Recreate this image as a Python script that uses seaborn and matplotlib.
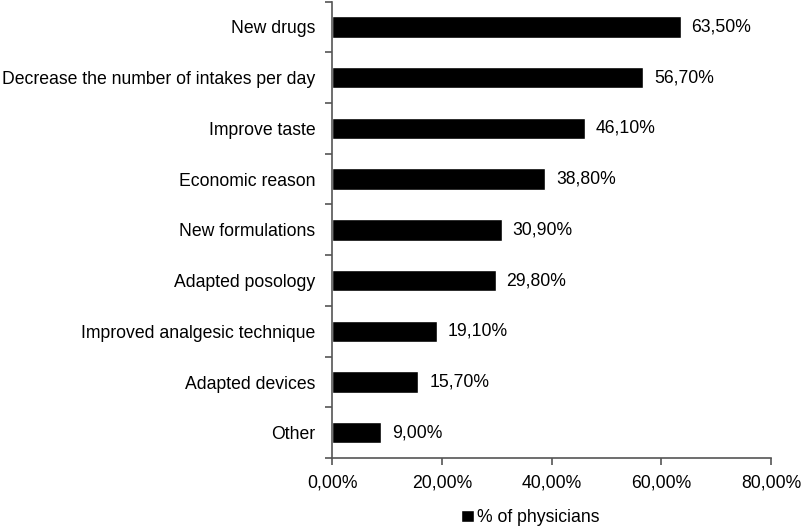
import numpy as np
import pandas as pd
import matplotlib
matplotlib.use("Agg")
import matplotlib.pyplot as plt
import seaborn as sns
from matplotlib.patches import Patch

categories = ["New drugs", "Decrease the number of intakes per day", "Improve taste",
              "Economic reason", "New formulations", "Adapted posology",
              "Improved analgesic technique", "Adapted devices", "Other"]
values = [63.5, 56.7, 46.1, 38.8, 30.9, 29.8, 19.1, 15.7, 9.0]
xticks = [0, 20, 40, 60, 80]
series_name = "% of physicians"

df = pd.DataFrame({"reason": categories, "pct": values})

sns.set_style("white")
plt.rcParams['font.family'] = ['Liberation Sans', 'DejaVu Sans']
plt.rcParams['text.color'] = 'black'
plt.rcParams['xtick.color'] = 'black'
plt.rcParams['ytick.color'] = 'black'

fs = 12.7

fig = plt.figure(figsize=(8.1, 5.29), dpi=100)
ax = fig.add_axes([0.41, 0.134, 0.542, 0.863])

sns.barplot(data=df, x="pct", y="reason", color="black", width=0.42,
            saturation=1, ax=ax, orient="h")

for i, v in enumerate(values):
    ax.text(v + 2.0, i, f"{v:.2f}".replace(".", ",") + "%", va="center",
            ha="left", fontsize=fs, color="black")

ax.set_xlim(0, 80)
ax.set_ylim(len(categories) - 0.5, -0.5)
ax.set_xticks(xticks)
ax.set_xticklabels([f"{t:.2f}".replace(".", ",") + "%" for t in xticks], fontsize=fs)
ax.set_yticks(range(len(categories)))
ax.set_yticklabels(categories, fontsize=fs)
ax.set_yticks(np.arange(-0.5, len(categories)), minor=True)
ax.tick_params(axis="y", which="major", left=False, length=0, pad=12)
ax.tick_params(axis="y", which="minor", left=True, length=5, color="#555555",
               width=1.2, direction="out")
ax.tick_params(axis="x", bottom=True, length=5, color="#555555", width=1.2,
               direction="out", pad=7, labelcolor="black")
ax.set_xlabel("")
ax.set_ylabel("")
for s in ["top", "right"]:
    ax.spines[s].set_visible(False)
for s in ["left", "bottom"]:
    ax.spines[s].set_color("#555555")
    ax.spines[s].set_linewidth(1.2)

fig.legend(handles=[Patch(facecolor="black", label=series_name)],
           loc="center", bbox_to_anchor=(0.655, 0.022), frameon=False,
           fontsize=fs, handlelength=0.7, handleheight=0.7, handletextpad=0.2)

fig.savefig("out.png", dpi=100)
